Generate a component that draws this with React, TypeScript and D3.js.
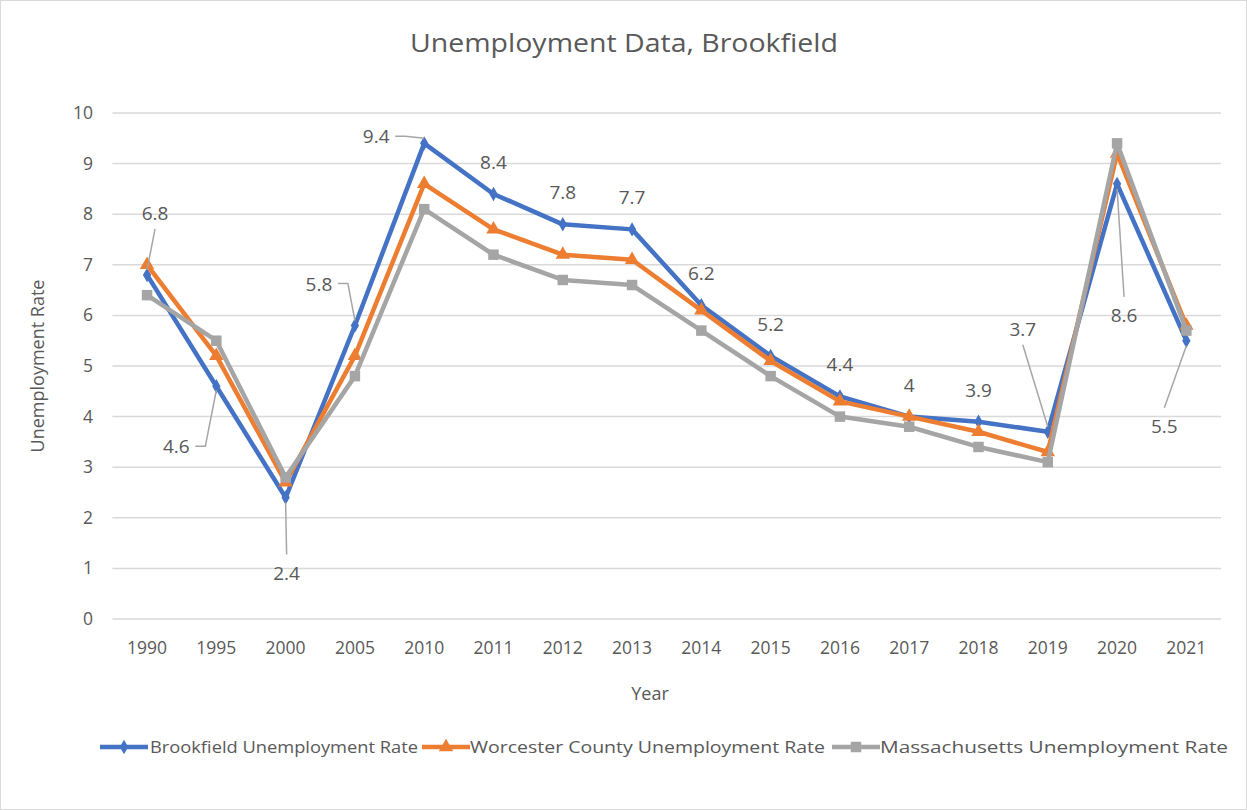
import React from "react";
import * as d3 from "d3";

const years = ["1990","1995","2000","2005","2010","2011","2012","2013","2014","2015","2016","2017","2018","2019","2020","2021"];
const brookfield = [6.8,4.6,2.4,5.8,9.4,8.4,7.8,7.7,6.2,5.2,4.4,4.0,3.9,3.7,8.6,5.5];
const worcester = [7.0,5.2,2.7,5.2,8.6,7.7,7.2,7.1,6.1,5.1,4.3,4.0,3.7,3.3,9.2,5.8];
const massachusetts = [6.4,5.5,2.8,4.8,8.1,7.2,6.7,6.6,5.7,4.8,4.0,3.8,3.4,3.1,9.4,5.7];
const yTicks = [0,1,2,3,4,5,6,7,8,9,10];
const seriesNames = ["Brookfield Unemployment Rate","Worcester County Unemployment Rate","Massachusetts Unemployment Rate"];

// label placement offsets (dx, dy) relative to point; leader kind: "" none, "v" vertical, "h" horizontal elbow
const labelOffsets: [number, number, string][] = [
  [8,-62,"v"],[-40,60,"h"],[1,75,"v"],[-36,-42,"h"],[-48,-7,"h"],[0,-32,""],[0,-32,""],
  [0,-32,""],[0,-32,""],[0,-32,""],[0,-32,""],[0,-32,""],[0,-32,""],[-25,-103,"v"],[7,131,"v"],[-22,85,"v"]
];

const W = 1247, H = 810;
const left = 112.4, right = 1221, top = 113, bottom = 619;

export default function App() {
  const x = d3.scaleBand<string>().domain(years).range([left, right]);
  const y = d3.scaleLinear().domain([0, 10]).range([bottom, top]);
  const cx = (i: number) => (x(years[i]) as number) + x.bandwidth() / 2;
  const line = d3.line<number>().x((_, i) => cx(i)).y(v => y(v));
  const series = [
    { name: seriesNames[0], data: brookfield, color: "#4472C4", marker: "diamond" },
    { name: seriesNames[1], data: worcester, color: "#ED7D31", marker: "triangle" },
    { name: seriesNames[2], data: massachusetts, color: "#A5A5A5", marker: "square" },
  ];
  const markerPath = (m: string) => {
    if (m === "diamond") return d3.symbol().type(d3.symbolDiamond).size(60)()!;
    if (m === "triangle") return d3.symbol().type(d3.symbolTriangle).size(90)()!;
    return d3.symbol().type(d3.symbolSquare).size(110)()!;
  };
  const font = "'Open Sans', Calibri, sans-serif";
  const txt = "#595959";
  const legendItems = [
    { x0: 100, tx: 150, w: 268 },
    { x0: 422, tx: 470, w: 355 },
    { x0: 832, tx: 880, w: 348 },
  ];
  return (
    <svg width={W} height={H} style={{ position: "absolute", left: 0, top: 0, display: "block" }} fontFamily={font}>
      <rect x={0.5} y={0.5} width={W - 1} height={H - 1} fill="#fff" stroke="#d9d9d9" />
      <text x={624} y={52} textAnchor="middle" fontSize={26} fill={txt} textLength={428} lengthAdjust="spacingAndGlyphs">Unemployment  Data, Brookfield</text>
      {yTicks.map(t => (
        <g key={t}>
          <line x1={left} x2={right} y1={y(t)} y2={y(t)} stroke="#d9d9d9" strokeWidth={1.5} />
          <text x={93} y={y(t) + 6} textAnchor="end" fontSize={17.5} fill={txt}>{t}</text>
        </g>
      ))}
      {years.map((yr, i) => (
        <text key={yr} x={cx(i)} y={654} textAnchor="middle" fontSize={17.5} fill={txt}>{yr}</text>
      ))}
      <text x={650} y={700} textAnchor="middle" fontSize={18} fill={txt}>Year</text>
      <text transform={`translate(44,${366}) rotate(-90)`} textAnchor="middle" fontSize={18} fill={txt}>Unemployment Rate</text>
      {series.map(s => (
        <g key={s.name}>
          <path d={line(s.data) || ""} fill="none" stroke={s.color} strokeWidth={4.5} strokeLinejoin="round" />
          {s.data.map((v, i) => (
            <path key={i} d={markerPath(s.marker)} transform={`translate(${cx(i)},${y(v)})`} fill={s.color} />
          ))}
        </g>
      ))}
      {brookfield.map((v, i) => {
        const [dx, dy, kind] = labelOffsets[i];
        const px = cx(i), py = y(v);
        const lx = px + dx, ly = py + dy;
        let lead = null;
        if (kind === "h") {
          const sx = lx + (dx < 0 ? 19 : -19);
          const ex = sx + (dx < 0 ? 10 : -10);
          const ey = py + (dy > 0 ? 4 : -5);
          lead = <polyline points={`${sx},${ly} ${ex},${ly} ${px},${ey}`} fill="none" stroke="#a6a6a6" strokeWidth={1.5} />;
        } else if (kind === "v") {
          const sy = ly + (dy < 0 ? 16 : -18);
          const ey = py + (dy < 0 ? -5 : 5);
          lead = <line x1={lx} y1={sy} x2={px} y2={ey} stroke="#a6a6a6" strokeWidth={1.5} />;
        }
        return (
          <g key={i}>
            {lead}
            <text x={lx} y={ly + 7} textAnchor="middle" fontSize={19} fill={txt}>{String(v)}</text>
          </g>
        );
      })}
      {series.map((s, k) => {
        const it = legendItems[k];
        return (
          <g key={s.name}>
            <line x1={it.x0} x2={it.x0 + 48} y1={747} y2={747} stroke={s.color} strokeWidth={4.5} />
            <path d={markerPath(s.marker)} transform={`translate(${it.x0 + 24},747)`} fill={s.color} />
            <text x={it.tx} y={753} fontSize={17} fill={txt} textLength={it.w} lengthAdjust="spacingAndGlyphs">{s.name}</text>
          </g>
        );
      })}
    </svg>
  );
}
